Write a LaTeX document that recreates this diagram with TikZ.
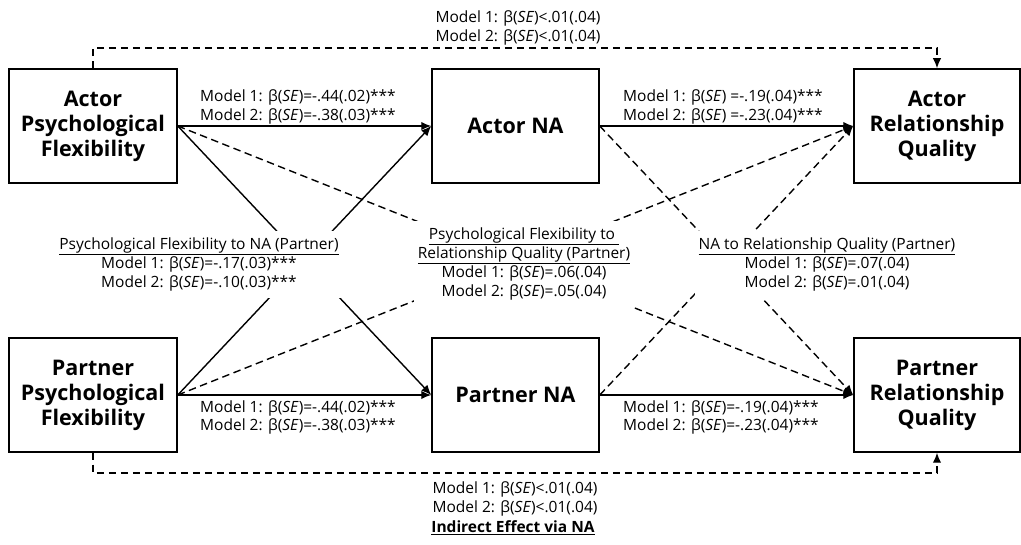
\documentclass[tikz,border=0pt]{standalone}
\usepackage{fontspec}
\setmainfont{Open Sans}
\usetikzlibrary{arrows.meta}
\begin{document}
\begin{tikzpicture}[x=1pt,y=-1pt,
  box/.style={draw, line width=1.5pt, minimum width=168pt, minimum height=114pt, align=center,
    font=\fontsize{21.5}{25}\selectfont\bfseries, inner sep=0pt},
  lab/.style={font=\fontsize{15.5}{19}\selectfont, align=center, inner sep=0pt},
  llab/.style={font=\fontsize{15.5}{18.5}\selectfont, align=left, inner sep=0pt, anchor=west},
  mask/.style={lab, fill=white, inner xsep=4pt, inner ysep=7pt},
  arr/.style={line width=1.4pt, -{Latex[length=10pt,width=8.5pt]}},
  dsh/.style={arr, dash pattern=on 7.5pt off 4.5pt}
]
\useasboundingbox (0,0) rectangle (1021,545);

\newcommand{\bse}{β(\textit{SE})}

% boxes
\node[box] (apf) at (93,126) {Actor\\Psychological\\Flexibility};
\node[box, minimum width=167pt] (ana) at (515.5,126) {Actor NA};
\node[box, minimum width=166pt] (arq) at (937,126) {Actor\\Relationship\\Quality};
\node[box] (ppf) at (93,395) {Partner\\Psychological\\Flexibility};
\node[box, minimum width=167pt] (pna) at (515.5,395) {Partner NA};
\node[box, minimum width=166pt] (prq) at (937,395) {Partner\\Relationship\\Quality};

% paths
\draw[arr] (apf.east) -- (ana.west);
\draw[arr] (ana.east) -- (arq.west);
\draw[arr] (ppf.east) -- (pna.west);
\draw[arr] (pna.east) -- (prq.west);
\draw[arr] (apf.east) -- (pna.west);
\draw[arr] (ppf.east) -- (ana.west);
\draw[dsh] (apf.east) -- (prq.west);
\draw[dsh] (ppf.east) -- (arq.west);
\draw[dsh] (ana.east) -- (prq.west);
\draw[dsh] (pna.east) -- (arq.west);

\coordinate (topy) at (515,48);
\coordinate (boty) at (515,473);
\draw[dsh] (apf.north) |- (topy) -| (arq.north);
\draw[dsh] (ppf.south) |- (boty) -| (prq.south);

% direct path labels
\node[llab] (l1) at (200,107) {Model 1: \bse=-.44(.02)***\\Model 2: \bse=-.38(.03)***};
\node[llab] (l2) at (623,107) {Model 1: \bse{} =-.19(.04)***\\Model 2: \bse{} =-.23(.04)***};
\node[llab] (l3) at (200,417.5) {Model 1: \bse=-.44(.02)***\\Model 2: \bse=-.38(.03)***};
\node[llab] (l4) at (623,417.5) {Model 1: \bse=-.19(.04)***\\Model 2: \bse=-.23(.04)***};

% cross labels
\node[mask] (c1) at (199,264.5) {\underline{Psychological Flexibility to NA (Partner)}\\Model 1: \bse=-.17(.03)***\\Model 2: \bse=-.10(.03)***};
\node[mask] (c2) at (524,264) {\underline{Psychological Flexibility to }\\\underline{Relationship Quality (Partner)}\\Model 1: \bse=.06(.04)\\Model 2: \bse=.05(.04)};
\node[mask] (c3) at (827,264.5) {\underline{NA to Relationship Quality (Partner)}\\Model 1: \bse=.07(.04)\\Model 2: \bse=.01(.04)};

% indirect labels
\node[lab] (t1) at (518,27.5) {Model 1: \bse<.01(.04)\\Model 2: \bse<.01(.04)};
\node[lab] (b1) at (515,498.5) {Model 1: \bse<.01(.04)\\Model 2: \bse<.01(.04)};
\node[lab, font=\fontsize{15.5}{18}\selectfont\bfseries] (ie) at (513,527.5) {\underline{Indirect Effect via NA}};
\end{tikzpicture}
\end{document}
